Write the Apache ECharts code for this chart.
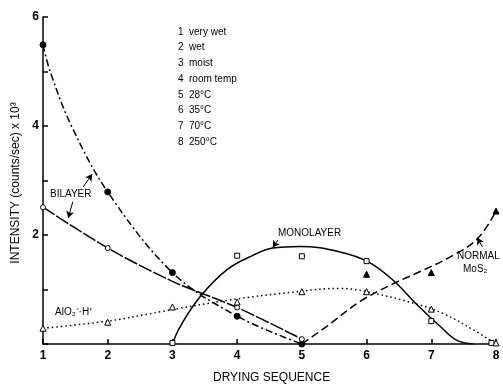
<!DOCTYPE html>
<html>
<head>
<meta charset="utf-8">
<script src="https://cdn.jsdelivr.net/npm/echarts@6/dist/echarts.min.js"></script>
<style>html,body{margin:0;padding:0;background:#fff}#c{width:503px;height:392px}</style>
</head>
<body>
<div id="c"></div>
<script>
// ---- data ----
const xTicks = [1, 2, 3, 4, 5, 6, 7, 8];
const yTickLabels = ['', '', '2', '', '4', '', '6'];
const legendNums = ['1', '2', '3', '4', '5', '6', '7', '8'];
const legendTexts = ['very wet', 'wet', 'moist', 'room temp', '28°C', '35°C', '70°C', '250°C'];

// filled circles (dash-dot curve)
const filledCircleX = [1, 2, 3, 4, 5];
const filledCircleY = [5.49, 2.79, 1.31, 0.51, 0.0];
const dashDotCurveX = [1, 1.11, 1.44, 2, 3, 4, 5];
const dashDotCurveY = [5.49, 5.0, 4.0, 2.79, 1.31, 0.51, 0.0];
// bilayer (open circles, long-dash line)
const bilayerLineX = [1, 2, 3, 4, 5];
const bilayerLineY = [2.51, 1.76, 1.15, 0.67, 0.09];
const openCircleX = [1, 2, 4, 5];
const openCircleY = [2.51, 1.76, 0.67, 0.09];
// monolayer (squares, solid curve)
const squareX = [3, 4, 5, 6, 7, 7.93];
const squareY = [0.02, 1.62, 1.61, 1.52, 0.42, 0.02];
const monoCurveX = [3.0, 3.12, 3.43, 3.84, 4.25, 4.55, 4.97, 5.59, 6.02, 6.41, 6.78, 7.14, 7.39, 7.65];
const monoCurveY = [0.0, 0.32, 0.87, 1.36, 1.63, 1.76, 1.79, 1.69, 1.51, 1.17, 0.72, 0.32, 0.07, 0.0];
// AlO2-.H+ (open triangles, dotted curve)
const openTriX = [1, 2, 3, 4, 5, 6, 7, 8];
const openTriY = [0.29, 0.40, 0.68, 0.77, 0.96, 0.96, 0.64, 0.02];
const dotCurveX = [1, 2, 2.81, 3.84, 5, 5.59, 6, 6.78, 7.2, 7.65, 8];
const dotCurveY = [0.29, 0.42, 0.59, 0.80, 0.97, 1.02, 0.96, 0.73, 0.55, 0.26, 0.0];
// normal MoS2 (filled triangles, dashed curve)
const filledTriX = [6, 7, 8];
const filledTriY = [1.28, 1.31, 2.44];
const dashCurveX = [5, 5.38, 5.9, 6.4, 6.83, 7.34, 7.72, 8];
const dashCurveY = [0.0, 0.32, 0.78, 1.1, 1.33, 1.63, 1.94, 2.44];

// annotation arrows [fromX, fromY, toX, toY] in data units
const arrows = [
  [1.62, 2.88, 1.76, 3.12],
  [1.46, 2.61, 1.39, 2.31],
  [4.63, 1.91, 4.55, 1.77],
  [7.79, 1.78, 7.71, 1.95]
];

const zip = (xs, ys) => xs.map((x, i) => [x, ys[i]]);

const chart = echarts.init(document.getElementById('c'), null, {renderer: 'canvas'});
const FONT = 'Liberation Sans, Arial, Helvetica, sans-serif';

const lineSeries = (data, type, width, smooth) => ({
  type: 'line', data, smooth, showSymbol: false, symbol: 'none',
  lineStyle: {color: '#000', width, type}, z: 2, silent: true
});
const scatterSeries = (data, symbol, size, filled) => ({
  type: 'scatter', data, symbol, symbolSize: size,
  itemStyle: {color: filled ? '#000' : '#fff', borderColor: '#000', borderWidth: 1, opacity: 1},
  z: 5, silent: true
});

const legendGraphics = [];
legendNums.forEach((n, i) => {
  legendGraphics.push({type: 'text', left: 178, top: 27 + i * 15.7,
    style: {text: n, fill: '#000', font: '10px ' + FONT}});
  legendGraphics.push({type: 'text', left: 189, top: 27 + i * 15.7,
    style: {text: legendTexts[i], fill: '#000', font: '10px ' + FONT}});
});

chart.setOption({
  animation: false,
  backgroundColor: '#fff',
  grid: {left: 43, right: 7, top: 17, bottom: 48},
  xAxis: {
    type: 'value', min: 1, max: 8, interval: 1,
    axisLine: {lineStyle: {color: '#000', width: 1.5}},
    axisTick: {inside: true, length: 5, lineStyle: {color: '#000', width: 1.5}},
    axisLabel: {color: '#000', fontSize: 12, fontWeight: 'bold', fontFamily: FONT, margin: 6,
      formatter: v => xTicks.includes(v) ? String(v) : ''},
    splitLine: {show: false}
  },
  yAxis: {
    type: 'value', min: 0, max: 6, interval: 1,
    axisLine: {show: true, lineStyle: {color: '#000', width: 1.5}},
    axisTick: {show: true, inside: true, length: 5, lineStyle: {color: '#000', width: 1.5}},
    axisLabel: {color: '#000', fontSize: 12, fontWeight: 'bold', fontFamily: FONT, margin: 4,
      formatter: v => yTickLabels[Math.round(v)] || ''},
    splitLine: {show: false}
  },
  series: [
    lineSeries(zip(dashDotCurveX, dashDotCurveY), [7, 3, 2, 3], 1.5, 0.35),
    lineSeries(zip(bilayerLineX, bilayerLineY), [14, 2], 1.5, 0.3),
    lineSeries(zip(monoCurveX, monoCurveY), 'solid', 1.5, 0.4),
    lineSeries(zip(dotCurveX, dotCurveY), [1.5, 3], 1.5, 0.4),
    Object.assign(lineSeries(zip(dashCurveX, dashCurveY), [8, 4], 1.5, 0.4), {
      markLine: {
        silent: true, symbol: ['none', 'arrow'], symbolSize: [6, 7],
        lineStyle: {color: '#000', width: 1, type: 'solid'}, label: {show: false},
        data: arrows.map(a => [{coord: [a[0], a[1]]}, {coord: [a[2], a[3]]}])
      }
    }),
    scatterSeries(zip(filledCircleX, filledCircleY), 'circle', 6, true),
    scatterSeries(zip(openCircleX, openCircleY), 'circle', 5, false),
    scatterSeries(zip(squareX, squareY), 'rect', 5, false),
    scatterSeries(zip(openTriX, openTriY), 'triangle', 6, false),
    scatterSeries(zip(filledTriX, filledTriY), 'triangle', 6, true)
  ],
  graphic: legendGraphics.concat([
    {type: 'text', left: 50, top: 189, style: {text: 'BILAYER', fill: '#000', font: '10px ' + FONT}},
    {type: 'text', left: 278, top: 228, style: {text: 'MONOLAYER', fill: '#000', font: '10px ' + FONT}},
    {type: 'text', left: 457, top: 251, style: {text: 'NORMAL', fill: '#000', font: '10px ' + FONT}},
    {type: 'text', left: 463, top: 264, style: {text: 'MoS₂', fill: '#000', font: '10px ' + FONT}},
    {type: 'text', left: 55, top: 307, style: {text: 'AlO₂⁻·H⁺', fill: '#000', font: '10px ' + FONT}},
    {type: 'text', left: 213, top: 372, style: {text: 'DRYING SEQUENCE', fill: '#000', font: '12px ' + FONT}},
    {type: 'text', x: 16, y: 183, rotation: Math.PI / 2,
      style: {text: 'INTENSITY (counts/sec) x 10³', fill: '#000', font: '12px ' + FONT,
        align: 'center', verticalAlign: 'middle'}}
  ])
});
</script>
</body>
</html>
